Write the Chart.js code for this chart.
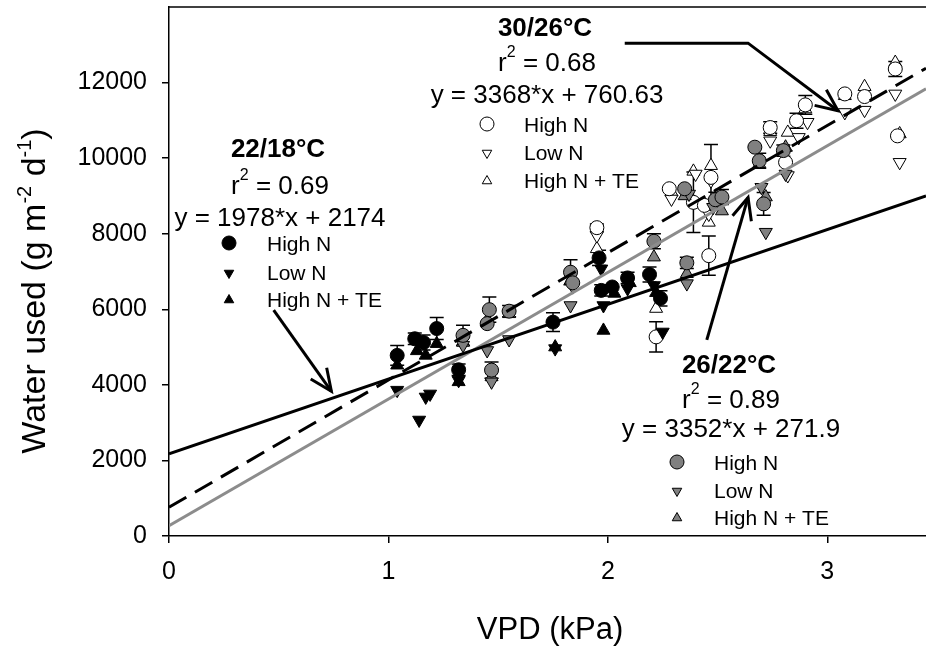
<!DOCTYPE html>
<html>
<head>
<meta charset="utf-8">
<script src="https://cdn.jsdelivr.net/npm/chart.js@4.4.0/dist/chart.umd.min.js"></script>
<style>
  html, body { margin: 0; padding: 0; background: #fff; }
  #wrap { width: 926px; height: 648px; position: relative; }
</style>
</head>
<body>
<div id="wrap"><canvas id="myChart"></canvas></div>
<script>
// ---- data ----
const xTicks = [0, 1, 2, 3];
const yTicks = [0, 2000, 4000, 6000, 8000, 10000, 12000];

// 22/18 C (black)
const vpd22HighN   = [1.04, 1.12, 1.16, 1.22, 1.32, 1.75, 1.96, 1.97, 2.02, 2.09, 2.19, 2.24];
const water22HighN = [4780, 5220, 5120, 5490, 4400, 5660, 7360, 6500, 6590, 6830, 6920, 6290];
const err22HighN   = [260, 150, 200, 290, 150, 250, 200, 150, 0, 150, 200, 200];
const vpd22LowN    = [1.04, 1.14, 1.17, 1.19, 1.32, 1.76, 1.97, 1.98, 2.09, 2.21, 2.25];
const water22LowN  = [3860, 3070, 3680, 3760, 4120, 4960, 7070, 6100, 6550, 6630, 5400];
const vpd22HighNTE   = [1.04, 1.13, 1.17, 1.22, 1.32, 1.76, 1.98, 2.03, 2.10, 2.22];
const water22HighNTE = [4520, 4900, 4780, 5090, 4080, 5000, 5440, 6420, 6700, 6440];

// 26/22 C (grey)
const vpd26HighN   = [1.34, 1.45, 1.46, 1.47, 1.55, 1.83, 1.84, 2.21, 2.36, 2.35, 2.49, 2.52, 2.67, 2.69, 2.71, 2.80];
const water26HighN = [5310, 5620, 5990, 4390, 5950, 6980, 6700, 7800, 7230, 9190, 8900, 8970, 10290, 9930, 8790, 10200];
const err26HighN   = [265, 0, 335, 215, 150, 330, 0, 200, 150, 0, 200, 200, 0, 200, 300, 150];
const vpd26LowN    = [1.34, 1.45, 1.47, 1.55, 1.83, 1.84, 2.36, 2.37, 2.48, 2.70, 2.72, 2.81];
const water26LowN  = [5050, 4910, 4080, 5200, 6100, 6600, 6680, 9050, 8700, 9230, 8040, 9580];
const vpd26HighNTE   = [1.34, 1.45, 1.47, 1.55, 1.83, 2.21, 2.36, 2.35, 2.49, 2.52, 2.69, 2.72, 2.81];
const water26HighNTE = [5120, 5710, 4210, 5880, 6760, 7380, 6940, 9000, 8880, 8600, 9850, 8970, 10290];

// 30/26 C (white)
const vpd30HighN   = [1.95, 2.22, 2.28, 2.39, 2.44, 2.46, 2.47, 2.74, 2.81, 2.86, 2.90, 3.08, 3.17, 3.31, 3.32];
const water30HighN = [8160, 5270, 9190, 8830, 8750, 7420, 9490, 10810, 9890, 10990, 11410, 11700, 11630, 12360, 10590];
const err30HighN   = [100, 400, 0, 800, 0, 520, 870, 150, 300, 200, 250, 0, 0, 200, 0];
const vpd30LowN    = [1.95, 2.29, 2.40, 2.47, 2.46, 2.74, 2.82, 2.87, 2.91, 3.08, 3.17, 3.31, 3.33];
const water30LowN  = [7950, 8920, 9580, 9400, 8520, 10460, 9540, 10550, 10950, 11210, 11270, 11700, 9890];
const vpd30HighNTE   = [1.95, 2.22, 2.29, 2.39, 2.47, 2.46, 2.74, 2.82, 2.90, 3.08, 3.17, 3.31, 3.33];
const water30HighNTE = [7600, 6020, 9100, 9650, 9800, 8300, 10700, 10680, 11300, 11650, 11890, 12530, 10640];

// regressions: 22/18, 30/26, 26/22
const fitNames = ["22/18°C", "30/26°C", "26/22°C"];
const fitSlopes = [1978, 3368, 3352];
const fitIntercepts = [2174, 760.63, 271.9];
const fitR2 = ["0.69", "0.68", "0.89"];
const fitEquations = ["y = 1978*x + 2174", "y = 3368*x + 760.63", "y = 3352*x + 271.9"];
const treatments = ["High N", "Low N", "High N + TE"];

const xMax = 3.45;
const FONT = "'Liberation Sans', Arial, sans-serif";

function pts(xs, ys) {
  return xs.map((x, i) => ({ x: x, y: ys[i] }));
}

function series(xs, ys, style, fill, errs) {
  const down = style === "down";
  return {
    type: "scatter",
    data: pts(xs, ys),
    pointStyle: style === "circle" ? "circle" : "triangle",
    pointRotation: down ? 180 : 0,
    pointRadius: style === "circle" ? 7 : 7.5,
    backgroundColor: fill,
    borderColor: "#000",
    borderWidth: 1,
    errorBars: errs || null,
    order: 2
  };
}

function fitLine(i, color, dash) {
  return {
    type: "line",
    data: [
      { x: 0, y: fitIntercepts[i] },
      { x: xMax, y: fitSlopes[i] * xMax + fitIntercepts[i] }
    ],
    borderColor: color,
    borderWidth: 3,
    borderDash: dash,
    pointRadius: 0,
    fill: false,
    order: 0
  };
}

// where the annotation blocks sit (pixels)
const blocks = [
  { cx: 278, title: 148, r2: 185, eq: 217, mx: 229, tx: 267, rows: [243, 272, 299], fill: "#000" },
  { cx: 545, title: 27, r2: 62, eq: 94, mx: 487, tx: 524, rows: [124, 152, 180], fill: "#fff" },
  { cx: 729, title: 364, r2: 399, eq: 428, mx: 677, tx: 714, rows: [462, 490, 517], fill: "#808080" }
];

// arrows in data coords
const arrows = [
  [[0.477, 5980], [0.74, 3830]],
  [[2.451, 5190], [2.639, 8960]],
  [[2.077, 13043], [2.639, 13043], [3.049, 11255]]
];

function drawParts(ctx, parts, cx, cy) {
  let total = 0;
  parts.forEach(p => {
    ctx.font = (p.bold ? "bold " : "") + p.size + "px " + FONT;
    p.w = ctx.measureText(p.t).width;
    total += p.w;
  });
  let x = cx - total / 2;
  const base = cy + 9;
  ctx.textAlign = "left";
  ctx.textBaseline = "alphabetic";
  parts.forEach(p => {
    ctx.font = (p.bold ? "bold " : "") + p.size + "px " + FONT;
    ctx.fillText(p.t, x, base - (p.up || 0));
    x += p.w;
  });
}

const annotate = {
  id: "annotate",
  beforeDatasetsDraw(chart) {
    const ctx = chart.ctx;
    const xs = chart.scales.x, ys = chart.scales.y;
    ctx.save();
    ctx.strokeStyle = "#000";
    ctx.lineWidth = 1.5;
    chart.data.datasets.forEach(ds => {
      if (!ds.errorBars) return;
      ds.data.forEach((p, i) => {
        const e = ds.errorBars[i];
        if (!e) return;
        const px = xs.getPixelForValue(p.x);
        const top = ys.getPixelForValue(p.y + e);
        const bot = ys.getPixelForValue(p.y - e);
        ctx.beginPath();
        ctx.moveTo(px, top); ctx.lineTo(px, bot);
        ctx.moveTo(px - 7, top); ctx.lineTo(px + 7, top);
        ctx.moveTo(px - 7, bot); ctx.lineTo(px + 7, bot);
        ctx.stroke();
      });
    });
    ctx.restore();
  },
  afterDraw(chart) {
    const ctx = chart.ctx;
    const area = chart.chartArea;
    const xs = chart.scales.x, ys = chart.scales.y;
    ctx.save();
    // top frame line
    ctx.strokeStyle = "#000";
    ctx.lineWidth = 1.5;
    ctx.beginPath();
    ctx.moveTo(area.left, area.top);
    ctx.lineTo(area.right, area.top);
    ctx.stroke();

    ctx.fillStyle = "#000";
    // axis titles
    ctx.font = "31px " + FONT;
    ctx.textAlign = "center";
    ctx.textBaseline = "alphabetic";
    ctx.fillText("VPD (kPa)", 550, 639);

    ctx.save();
    ctx.translate(45, 291);
    ctx.rotate(-Math.PI / 2);
    const yParts = [
      { t: "Water used (g m", size: 34 },
      { t: "-2", size: 20, up: 14 },
      { t: " d", size: 34 },
      { t: "-1", size: 20, up: 14 },
      { t: ")", size: 34 }
    ];
    drawParts(ctx, yParts, 0, -9);
    ctx.restore();

    // annotation blocks
    blocks.forEach((b, i) => {
      ctx.fillStyle = "#000";
      drawParts(ctx, [{ t: fitNames[i], size: 26, bold: true }], b.cx, b.title);
      drawParts(ctx, [
        { t: "r", size: 26 },
        { t: "2", size: 16, up: 14 },
        { t: " = " + fitR2[i], size: 26 }
      ], b.cx + 2, b.r2);
      drawParts(ctx, [{ t: fitEquations[i], size: 26 }], b.cx + 2, b.eq);
      const styles = ["circle", "triangle", "triangle"];
      const rot = [0, 180, 0];
      b.rows.forEach((ry, k) => {
        ctx.fillStyle = b.fill;
        ctx.strokeStyle = "#000";
        ctx.lineWidth = 1;
        Chart.helpers.drawPoint(ctx, {
          pointStyle: styles[k],
          radius: k === 0 ? 7 : 5.5,
          rotation: rot[k],
          borderWidth: 1
        }, b.mx, ry + (k === 0 ? 0 : 1));
        ctx.fillStyle = "#000";
        ctx.font = "21px " + FONT;
        ctx.textAlign = "left";
        ctx.textBaseline = "alphabetic";
        ctx.fillText(treatments[k], b.tx, ry + 7.5);
      });
    });

    // arrows
    ctx.strokeStyle = "#000";
    ctx.lineWidth = 3;
    arrows.forEach(path => {
      const p = path.map(q => [xs.getPixelForValue(q[0]), ys.getPixelForValue(q[1])]);
      ctx.beginPath();
      ctx.moveTo(p[0][0], p[0][1]);
      for (let k = 1; k < p.length; k++) ctx.lineTo(p[k][0], p[k][1]);
      ctx.stroke();
      const a = p[p.length - 1], b = p[p.length - 2];
      const ang = Math.atan2(a[1] - b[1], a[0] - b[0]);
      const L = 24, h = 0.42;
      ctx.beginPath();
      ctx.moveTo(a[0] - L * Math.cos(ang - h), a[1] - L * Math.sin(ang - h));
      ctx.lineTo(a[0], a[1]);
      ctx.lineTo(a[0] - L * Math.cos(ang + h), a[1] - L * Math.sin(ang + h));
      ctx.stroke();
    });
    ctx.restore();
  }
};

const ctx = document.getElementById("myChart").getContext("2d");
const myChart = new Chart(ctx, {
  data: {
    datasets: [
      fitLine(0, "#000", []),
      fitLine(1, "#000", [20, 10]),
      fitLine(2, "#8c8c8c", []),
      series(vpd22HighN, water22HighN, "circle", "#000", err22HighN),
      series(vpd22LowN, water22LowN, "down", "#000"),
      series(vpd22HighNTE, water22HighNTE, "up", "#000"),
      series(vpd26HighN, water26HighN, "circle", "#808080", err26HighN),
      series(vpd26LowN, water26LowN, "down", "#808080"),
      series(vpd26HighNTE, water26HighNTE, "up", "#808080"),
      series(vpd30HighN, water30HighN, "circle", "#fff", err30HighN),
      series(vpd30LowN, water30LowN, "down", "#fff"),
      series(vpd30HighNTE, water30HighNTE, "up", "#fff")
    ]
  },
  options: {
    responsive: true,
    maintainAspectRatio: false,
    animation: false,
    layout: { autoPadding: false, padding: { top: 7, right: 0, bottom: 0, left: 0 } },
    plugins: { legend: { display: false }, tooltip: { enabled: false } },
    scales: {
      x: {
        type: "linear",
        min: 0,
        max: xMax,
        afterBuildTicks: s => { s.ticks = xTicks.map(v => ({ value: v })); },
        afterFit: s => {
          s.height = 112;
          s.paddingLeft = 0;
          s.paddingRight = 0;
        },
        ticks: { color: "#000", font: { size: 25, family: FONT }, padding: 14, maxRotation: 0 },
        grid: { drawOnChartArea: false, drawTicks: true, tickLength: 7, color: "#000", lineWidth: 1.5 },
        border: { color: "#000", width: 1.5 }
      },
      y: {
        type: "linear",
        min: 0,
        max: 14000,
        afterBuildTicks: s => { s.ticks = yTicks.map(v => ({ value: v })); },
        afterFit: s => {
          s.width = 169;
          s.paddingTop = 0;
          s.paddingBottom = 0;
        },
        ticks: { color: "#000", font: { size: 25, family: FONT }, padding: 15, callback: v => String(v) },
        grid: { drawOnChartArea: false, drawTicks: true, tickLength: 7, color: "#000", lineWidth: 1.5 },
        border: { color: "#000", width: 1.5 }
      }
    }
  },
  plugins: [annotate]
});
</script>
</body>
</html>
